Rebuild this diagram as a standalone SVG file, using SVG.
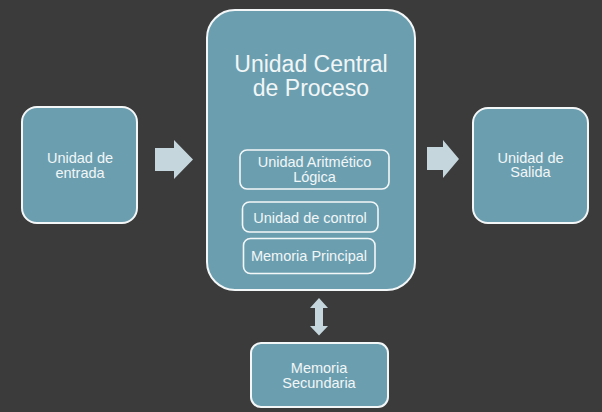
<svg xmlns="http://www.w3.org/2000/svg" width="602" height="412" viewBox="0 0 602 412">
<style>
.bg{fill:#3b3b3b}
.box{fill:#6b9fb0;stroke:#f4f7f8;stroke-width:2}
.inner{fill:none;stroke:#f4f7f8;stroke-width:1.6}
.arrow{fill:#c5d6dd}
text{font-family:"Liberation Sans",Arial,sans-serif;fill:#f2f6f7;text-anchor:middle}
.t{font-size:14.5px}
.title{font-size:23px}
</style>
<rect class="bg" x="0" y="0" width="602" height="412"/>
<g id="connectors">
<polygon class="arrow" points="155,148 174,148 174,140 193,159.5 174,179 174,171 155,171"/>
<polygon class="arrow" points="427,147 443,147 443,140 459,159 443,178 443,170 427,170"/>
<polygon class="arrow" points="319,298 328,308 323,308 323,326 328,326 319,335.5 310,326 315,326 315,308 310,308"/>
</g>
<g id="entrada">
<rect class="box" x="22" y="107" width="115" height="116" rx="15"/>
<text class="t" x="80" y="163">Unidad de</text>
<text class="t" x="80" y="177.5">entrada</text>
</g>
<g id="cpu">
<rect class="box" x="207" y="10" width="208" height="280" rx="28"/>
<text class="title" x="311" y="72">Unidad Central</text>
<text class="title" x="311" y="96">de Proceso</text>
</g>
<g id="ual">
<rect class="inner" x="240" y="150" width="149" height="39" rx="7"/>
<text class="t" x="314.5" y="167">Unidad Aritmético</text>
<text class="t" x="314.5" y="182">Lógica</text>
</g>
<g id="control">
<rect class="inner" x="242.5" y="202" width="135.5" height="30" rx="7"/>
<text class="t" x="310" y="222.5">Unidad de control</text>
</g>
<g id="memoria-principal">
<rect class="inner" x="243.5" y="238.5" width="131.5" height="35" rx="7"/>
<text class="t" x="309" y="260.5">Memoria Principal</text>
</g>
<g id="salida">
<rect class="box" x="473" y="108" width="115" height="115" rx="15"/>
<text class="t" x="530.5" y="162.5">Unidad de</text>
<text class="t" x="530.5" y="177">Salida</text>
</g>
<g id="memoria-secundaria">
<rect class="box" x="251" y="343" width="137" height="64" rx="10"/>
<text class="t" x="319" y="373">Memoria</text>
<text class="t" x="319" y="387.5">Secundaria</text>
</g>
</svg>
